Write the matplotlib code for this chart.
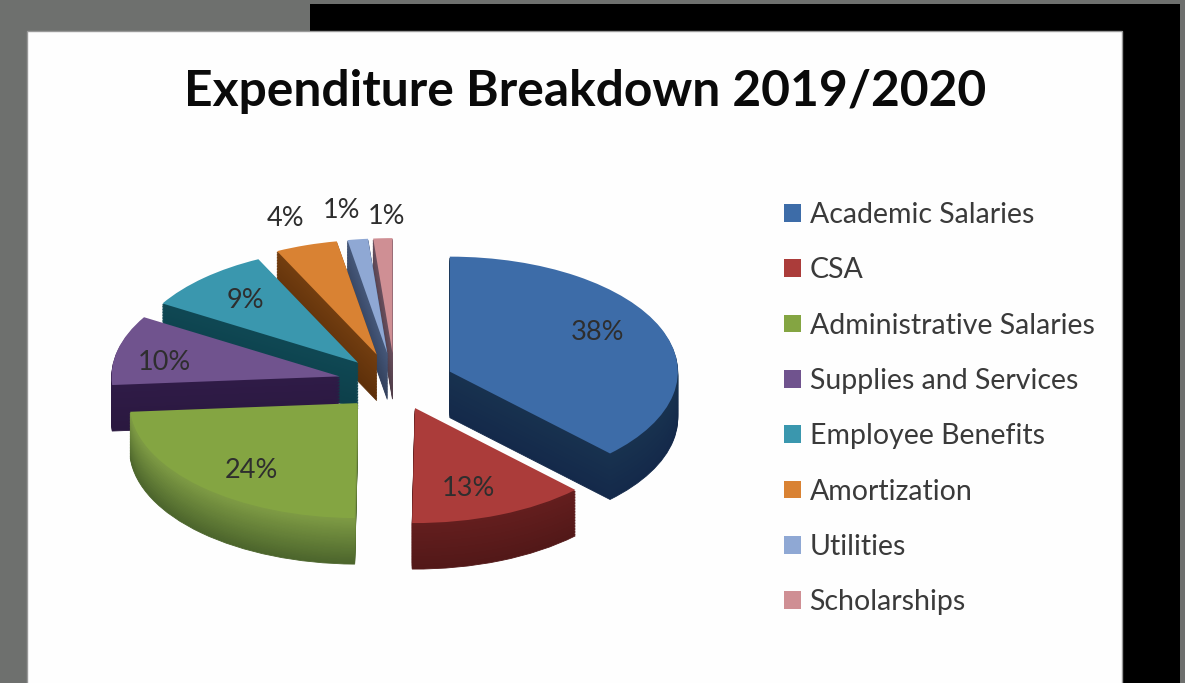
import matplotlib
matplotlib.use('Agg')
import numpy as np
import matplotlib.pyplot as plt
from matplotlib.patches import Rectangle
from matplotlib.colors import to_rgb

categories = ['Academic Salaries', 'CSA', 'Administrative Salaries', 'Supplies and Services',
              'Employee Benefits', 'Amortization', 'Utilities', 'Scholarships']
shares = [37.6, 12.6, 23.6, 9.8, 9.2, 4.4, 1.45, 1.35]
explode = [0.26, 0.235, 0.24, 0.25, 0.24, 0.26, 0.26, 0.26]

top_colors = ['#3d6ca8', '#ab3c3a', '#84a542', '#70538e', '#3a97ae', '#d98233', '#8fa8d4', '#cf8f94']
side_light = ['#18324f', '#641e1e', '#7f9c45', '#2f1b47', '#0f4854', '#733e10', '#46587a', '#6a505e']
side_dark = ['#14294a', '#521818', '#4c652c', '#2a183f', '#0d3f4a', '#5e300a', '#34425e', '#4e3c48']
# back to front
draw_order = [7, 6, 5, 4, 3, 0, 2, 1]
# label centres in picture pixels
label_px = [(598, 333), (468, 489), (251, 471), (164, 362), (245, 300), (286, 219), (342, 210), (387, 216)]

W, H = 1185, 683
cx, cy, rx, ry = 395, 383, 228, 115
depth = 0.4
layers = 30

plt.rcParams['font.family'] = ['Lato', 'DejaVu Sans']
fig = plt.figure(figsize=(W / 100, H / 100), dpi=100)

# grey screen, black window, white slide
bg = fig.add_axes([0, 0, 1, 1])
bg.set_xlim(0, W)
bg.set_ylim(H, 0)
bg.axis('off')
bg.add_patch(Rectangle((0, 0), W, H, color='#6e706e', lw=0))
bg.add_patch(Rectangle((310, 4), 870, H, color='black', lw=0))
bg.add_patch(Rectangle((27, 31), 1095, H, facecolor='#fefefe', edgecolor='#999999', lw=1))

ax = fig.add_axes([0, 0, 1, 1])
ax.patch.set_alpha(0)

def mix(a, b, t):
    return tuple(np.array(to_rgb(a)) * (1 - t) + np.array(to_rgb(b)) * t)

# the depth is the same pie stacked layer on layer
for k in range(layers, 0, -1):
    t = k / layers
    cols = [mix(l, d, t) for l, d in zip(side_light, side_dark)]
    wedges, _ = ax.pie(shares, explode=explode, colors=cols, startangle=90, counterclock=False,
                       center=(0, -k * depth / layers), wedgeprops=dict(lw=0.6))
    for i, w in enumerate(wedges):
        w.set_edgecolor(cols[i])
        w.set_zorder(draw_order.index(i) * 10 + 1 + (layers - k) * 0.01)

top_wedges, _, pct = ax.pie(shares, explode=explode, colors=top_colors, startangle=90, counterclock=False,
                            autopct='%.0f%%', pctdistance=0.62,
                            textprops=dict(fontsize=19.5, color='#2e2e2e'), wedgeprops=dict(lw=0))
for i, w in enumerate(top_wedges):
    w.set_zorder(draw_order.index(i) * 10 + 5)
for t, (px, py) in zip(pct, label_px):
    t.set_zorder(200)
    t.set_position(((px - cx) / rx, (cy - py) / ry))

ax.set_aspect('auto')
ax.set_xlim(-cx / rx, (W - cx) / rx)
ax.set_ylim((cy - H) / ry, cy / ry)
ax.axis('off')

fig.text(585 / W, 1 - 91 / H, 'Expenditure Breakdown 2019/2020', ha='center', va='center',
         fontsize=35.8, fontweight='bold', color='#0a0a0a')

fig.legend(top_wedges, categories, loc='upper left', bbox_to_anchor=(784 / W, 1 - 202 / H),
           frameon=False, fontsize=20.5, labelspacing=1.03, handlelength=0.58, handleheight=0.58,
           handletextpad=0.32, labelcolor='#3a3a3a', borderpad=0, borderaxespad=0)

fig.savefig('out.png', dpi=100)
